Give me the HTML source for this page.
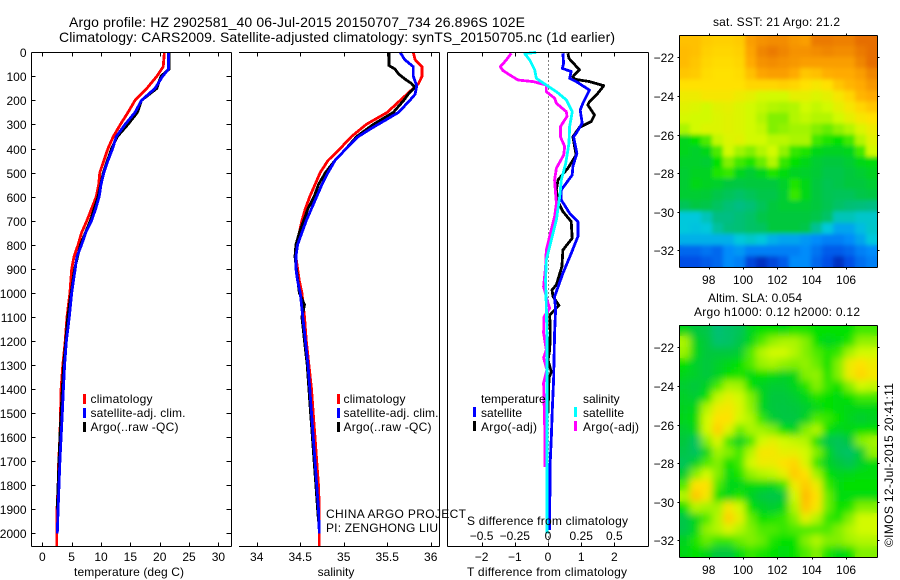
<!DOCTYPE html>
<html>
<head>
<meta charset="utf-8">
<title>Argo profile</title>
<style>
html,body{margin:0;padding:0;background:#fff;}
svg{display:block;}
text{font-family:"Liberation Sans",sans-serif;font-size:12px;fill:#000;}
.m{text-anchor:middle;}
.e{text-anchor:end;}
</style>
</head>
<body>
<svg id="chart" xmlns="http://www.w3.org/2000/svg" width="900" height="580" viewBox="0 0 900 580">
<defs>
<filter id="map-smooth-sst" x="0" y="0" width="100%" height="100%">
<feGaussianBlur stdDeviation="2" result="b"/>
<feMerge><feMergeNode in="SourceGraphic"/><feMergeNode in="b"/></feMerge>
</filter>
<filter id="map-smooth-sla" x="0" y="0" width="100%" height="100%">
<feGaussianBlur stdDeviation="3.6" result="b"/>
<feMerge><feMergeNode in="SourceGraphic"/><feMergeNode in="b"/></feMerge>
</filter>
</defs>
<rect x="0" y="0" width="900" height="580" fill="#fff"/>

<text x="69" y="27" style="font-size:14px" textLength="456">Argo profile: HZ 2902581_40 06-Jul-2015 20150707_734 26.896S 102E</text>
<text x="59" y="42" style="font-size:14px" textLength="556">Climatology: CARS2009. Satellite-adjusted climatology: synTS_20150705.nc (1d earlier)</text>

<g id="p1"></g>
<g id="p2"></g>
<g id="p3"></g>
<g id="m1"></g>
<g id="m2"></g>

<text x="74" y="576" textLength="110">temperature (deg C)</text>
<text x="336" y="576" class="m">salinity</text>
<text x="467" y="576" textLength="160">T difference from climatology</text>
<text x="467" y="525" textLength="161">S difference from climatology</text>

<g>
<rect x="83" y="394" width="3" height="10" fill="#f00"/>
<rect x="83" y="408" width="3" height="10" fill="#00f"/>
<rect x="83" y="422" width="3" height="10" fill="#000"/>
<text x="90.5" y="403" textLength="62">climatology</text>
<text x="90.5" y="417" textLength="95">satellite-adj. clim.</text>
<text x="90.5" y="431" textLength="88">Argo(..raw -QC)</text>
</g>
<g>
<rect x="337" y="394" width="3" height="10" fill="#f00"/>
<rect x="337" y="408" width="3" height="10" fill="#00f"/>
<rect x="337" y="422" width="3" height="10" fill="#000"/>
<text x="343.5" y="403" textLength="62">climatology</text>
<text x="343.5" y="417" textLength="95">satellite-adj. clim.</text>
<text x="343.5" y="431" textLength="88">Argo(..raw -QC)</text>
</g>
<g>
<text x="481" y="403">temperature</text>
<text x="583" y="403">salinity</text>
<rect x="473" y="407" width="3" height="10" fill="#00f"/>
<rect x="473" y="421" width="3" height="10" fill="#000"/>
<rect x="574" y="407" width="3" height="10" fill="#0ff"/>
<rect x="574" y="421" width="3" height="10" fill="#f0f"/>
<text x="481" y="417" textLength="41">satellite</text>
<text x="481" y="431" textLength="56">Argo(-adj)</text>
<text x="583" y="417" textLength="41">satellite</text>
<text x="583" y="431" textLength="56">Argo(-adj)</text>
</g>

<text x="326" y="518" textLength="140">CHINA ARGO PROJECT</text>
<text x="326" y="532" textLength="112">PI: ZENGHONG LIU</text>

<text x="713" y="26" textLength="127">sat. SST: 21 Argo: 21.2</text>
<text x="708" y="302" textLength="94">Altim. SLA: 0.054</text>
<text x="694" y="316" textLength="166">Argo h1000: 0.12 h2000: 0.12</text>
<text transform="translate(893,547) rotate(-90)" x="0" y="0" textLength="164">©IMOS 12-Jul-2015 20:41:11</text>
</svg>

<script>
// ---------- depth axis ----------
const depthTicks = [0,100,200,300,400,500,600,700,800,900,1000,1100,1200,1300,1400,1500,1600,1700,1800,1900,2000];

// ---------- temperature panel ----------
const tempTicks = [0,5,10,15,20,25,30];
const tempClimDepth = [0,60,100,150,200,250,300,350,400,450,500,550,600,650,700,750,800,850,900,1000,1100,1200,1300,1400,1500,1600,1700,1800,1900,2000,2052];
const tempClim = [20.8,20.6,19.5,17.8,15.8,14.6,13.3,12.1,11.2,10.5,9.8,9.6,9.2,8.4,7.6,6.7,6.1,5.4,5,4.7,4.2,3.9,3.5,3.2,3.1,3,2.8,2.7,2.5,2.45,2.45];
const tempSatDepth = [0,70,100,150,200,250,300,350,400,450,500,550,600,650,700,750,800,850,900,1000,1100,1200,1300,1400,1500,1600,1700,1800,1900,2000];
const tempSat = [21.5,21.5,20.5,19.2,16.9,15.8,14.1,12.6,12,11.2,10.5,10,9.7,9.1,8.4,7.4,6.7,5.9,5.6,5,4.6,4.1,3.8,3.6,3.4,3.2,3,2.85,2.7,2.55];
const tempArgoDepth = [0,70,100,150,200,250,300,350,400,500,600,700,800,900,1000,1100,1200,1300,1400,1500,1600,1700,1800,1900];
const tempArgo = [21.6,21.6,20.2,19.5,16.9,16.2,14.6,12.8,11.8,10.4,9.5,8.2,6.5,5.5,4.9,4.35,4,3.65,3.4,3.2,3,2.85,2.7,2.55];

// ---------- salinity panel ----------
const salTicks = [34,34.5,35,35.5,36];
const salClimDepth = [0,30,60,100,130,150,200,250,300,350,400,450,500,550,600,650,700,750,800,850,900,950,1000,1100,1200,1300,1400,1500,1600,1700,1800,1900,2052];
const salClim = [35.8,35.82,35.9,35.9,35.86,35.8,35.65,35.5,35.26,35.09,34.96,34.82,34.73,34.67,34.61,34.56,34.52,34.49,34.46,34.45,34.47,34.49,34.52,34.55,34.57,34.6,34.63,34.65,34.67,34.69,34.71,34.72,34.72];
const salSatDepth = [0,30,60,100,140,175,200,250,280,320,350,400,450,500,550,600,650,700,750,800,850,900,950,1000,1100,1200,1300,1400,1500,1600,1700,1800,1900,2000];
const salSat = [35.65,35.7,35.8,35.8,35.84,35.82,35.76,35.63,35.49,35.3,35.17,35.03,34.9,34.82,34.75,34.69,34.63,34.57,34.52,34.47,34.45,34.45,34.47,34.5,34.53,34.56,34.59,34.61,34.63,34.65,34.67,34.69,34.71,34.72];
const salArgoDepth = [0,55,70,90,110,130,145,175,200,250,300,350,400,450,500,550,600,650,700,750,800,850,1000,1050,1100,1200,1300,1400,1500,1600,1700,1800,1900,1950];
const salArgo = [35.52,35.52,35.59,35.63,35.7,35.78,35.82,35.74,35.69,35.57,35.34,35.15,35.03,34.9,34.79,34.71,34.66,34.59,34.54,34.49,34.45,34.44,34.49,34.55,34.52,34.55,34.58,34.6,34.62,34.64,34.66,34.68,34.7,34.71];

// ---------- difference panel ----------
const diffTTicks = [-2,-1,0,1,2];
const diffSTicks = [-0.5,-0.25,0,0.25,0.5];
const diffSTickLabels = ["\u22120.5","\u22120.25","0","0.25","0.5"];
const dTSatDepth = [4,46,67,80,108,122,157,212,240,295,337,351,420,475,510,572,614,669,704,766,836,919,1016,1070,1167,1362,1487,1604,1724,1986];
const dTSat = [0.45,0.47,0.43,0.7,0.65,0.85,1.25,1.05,0.97,1.03,0.85,0.77,0.87,0.75,0.73,0.4,0.4,0.65,0.9,0.9,0.7,0.45,0.2,0.23,0.2,0.17,0.13,0.1,0.06,0.05];
const dTArgoDepth = [4,25,73,101,112,122,139,177,205,219,261,288,312,351,392,427,482,531,572,621,662,704,773,822,891,967,988,1016,1053,1071,1092,1167,1238,1279,1329,1354,1500];
const dTArgo = [0.6,0.63,0.95,0.75,0.8,1.25,1.68,1.46,1.25,1.2,1.4,1.3,0.95,0.75,0.8,0.85,0.6,0.3,0.25,0.3,0.45,0.7,0.73,0.45,0.42,0.25,0.12,0.15,0.33,0.2,0.05,0.07,0.05,0,0.1,0.03,0];
const dSSatDepth = [0,6,32,73,108,136,164,198,247,309,378,462,531,600,697,780,863,947,1058,1167,1500,2000];
const dSSat = [-0.088,-0.175,-0.138,-0.1,-0.088,-0.013,0.063,0.138,0.183,0.163,0.158,0.133,0.1,0.088,0.063,0.025,-0.013,-0.018,-0.013,-0.008,-0.008,-0.008];
const dSArgoDepth = [4,32,60,76,98,115,122,136,164,191,212,247,267,309,351,392,427,482,531,572,628,683,753,822,891,974,1044,1064,1100,1167,1238,1270,1320,1375,1557,1724];
const dSArgo = [-0.276,-0.314,-0.359,-0.339,-0.276,-0.226,-0.113,-0.013,-0.013,0.05,0.063,0.138,0.143,0.093,0.093,0.126,0.118,0.063,0.05,0.055,0.063,0.05,0.018,-0.013,-0.018,-0.033,0,0.013,-0.03,-0.033,-0.013,-0.033,-0.008,-0.033,-0.025,-0.023];

// ---------- maps ----------
const lonTicks = [98,100,102,104,106];
const latTicks = [-22,-24,-26,-28,-30,-32];
const latTickLabels = ["\u221222","\u221224","\u221226","\u221228","\u221230","\u221232"];
const sstGrid = [
[9.6,9.6,9.4,9.3,9.3,9.4,10.2,10.4,10.5,10.5,10.3,10.2,10.8,10.8,10.7,10.7,11,11],
[9.7,9.6,9.3,9.2,9.2,9.3,10.1,10.6,10.8,10.6,10.4,10.4,10.5,10.6,10.5,10.5,10.8,11],
[9.7,9.5,9.2,9.1,9.1,9.2,10,10.4,10.5,10.4,10.3,10.2,10.2,10.2,10.2,10.2,10.6,11],
[9.5,9.4,9.1,9,9,9.1,9.6,10.1,10.2,10.2,10,9.5,9.6,9.9,10,10,10.2,10.6],
[9,9,9,9,9,9,9.2,9.2,9.2,9.3,9.2,9,8.8,9,9.5,9.8,10,10.3],
[8.6,8.6,8.8,8.8,8.8,8.6,8.4,8.1,8,8,8.4,8.4,8.2,8.4,8.8,9.2,9.8,10],
[8.3,8.2,8,8.3,8.4,8.2,8,7.8,7.6,7.5,7.6,8,7.8,8,8.4,8.8,9.2,9.5],
[8.1,8,8,8.2,8.3,8.2,8,7.6,7,7,7.6,7.8,7.6,7.6,8,8.4,8.8,9],
[7.5,8,8.2,8.2,8.3,8.2,8,7.8,7,7.2,7.4,7.4,7,6.8,7.2,7.6,8.2,8.6],
[5.5,6,6.6,7.8,8.2,8.3,8,8,7.7,7.7,7.5,7.5,6.5,6.2,6,6.5,7.6,8.3],
[5.5,5.3,5.6,6.6,8,7.4,7,7.6,8,7.2,6.4,6.2,5.6,5.4,5.4,5.5,6.5,8],
[5.3,5.3,5.2,6,7,6.5,6.2,6.8,7.6,6.4,6,5.6,5.2,5,5,5.2,5.6,5.8],
[5.2,5.4,5.4,6.2,6.4,5.5,5.2,5.5,6.2,5.8,5.4,5.3,5.1,4.8,4.8,5,5.2,5.4],
[5.2,5.6,5.4,5.3,5,4.9,5,5,5,5.3,6.2,5.6,5,4.7,4.8,5,5,5.2],
[5.2,5.2,5.1,4.8,4.6,4.4,4.6,4.8,4.8,5.2,6.4,5.6,5,4.7,4.6,4.6,4.8,4.9],
[4.6,4.9,4.8,4.5,4.2,4,4.2,4.6,5,5.2,5.2,5.2,5,4.7,4.4,4.2,4.1,4],
[3,3,3.4,4,4,4.2,4.4,4.8,5,5,5,5,4.8,4.4,3.4,3.4,3.2,3.2],
[3,2.9,3,3.7,4.1,4.2,4.4,4.5,5,5,5,4.8,3.8,3,2.4,2.4,2.8,3.2],
[2.6,2.6,2.6,2.6,2.6,3,3.2,3,2.6,2.4,2.4,2.2,2,1.8,1.8,2,2.4,3],
[1.4,1.4,1.6,1.4,2,2.2,1.8,1.8,1.8,1.8,1.8,2,1.6,1.2,1.2,1.4,1.8,2],
[1,1,1.2,1.4,2,1.8,0.8,0.4,0.8,1.2,2,2,1.4,1,0.4,1,1.5,1.8]
];
const slaGrid = [
[5.5,5,4.8,4.2,4.4,4.6,5.5,6,6,5.8,6.2,6.2,6,6,6,6,6.5,6.5],
[7.5,5.4,5,4.3,4.4,4.8,5.6,6.6,7.2,7.5,7.5,7,6,5.5,5.8,6.2,7.2,7.2],
[7.3,5.6,5,5,5,5.2,6.6,7.6,8,8,7.6,7,6.6,6.2,6.4,7.4,8,8],
[6,5.3,5,5.3,5.6,6,6.6,7.3,7.5,7.2,7,7.2,6.8,6,7,8.6,9,8.6],
[5.5,5.3,5,5.4,6,6.2,5.8,6,5.8,5.4,5.6,7,7.2,6.2,7,8.6,9.2,8.8],
[5.2,5,5.4,6.5,7.5,7.4,6,5.4,5.2,5.2,5.5,6.2,7,6.4,6,7,8,7.8],
[5.3,5.2,6,7.8,8.4,8,7,5.6,5,5,5.2,5.6,6.2,6,5.8,6,6.5,6.5],
[5.4,5.6,7.6,8.6,8.8,8.2,7.2,5.5,5,4.9,5,5.2,5.6,6,5.8,5.6,5.6,5.6],
[5.5,5.8,8,9,9,8,7.6,6.4,5.2,4.9,4.9,5.4,6.6,6.4,6,5.5,5.2,5.4],
[5.2,5.6,8,9.3,8.2,6.8,7.5,7.4,7,6,5.5,7,7.6,6,5.5,5.6,6,6],
[5,4.5,7,8.2,6.5,5.4,6.5,8,8.4,8,7.8,7.6,6,4.8,4.6,5,7,7.4],
[4.8,4.5,5.6,7.4,7,6.5,7.6,8.8,8.8,8.4,8.4,8,7,5.6,4.6,4.4,5.2,7.2],
[4.6,5.4,6.6,7,6,6.5,8,8.6,8.6,9,9.2,8.2,6.4,5.4,5,4.7,5.3,5.8],
[5.2,7,8,7,5.8,6.2,7.2,7.6,7.8,8.4,9.4,9,7.4,6,5.5,5.6,5.8,5.8],
[6.6,9,9,6.6,5.6,5.6,5.8,5.8,5.6,6.4,8.6,9.4,8.6,6.4,5.8,6,6,6],
[7.6,9.5,8.8,6,5.6,6.2,5.4,5,4.8,5,8,9.7,9,6.8,5.8,5.8,5.8,5.8],
[6,7.6,7.4,7.4,8.8,8,6,5.4,5.2,5.6,7.6,9.5,8.8,6.8,6,6.2,7,7],
[4.8,5.6,6.6,7.6,9.3,8.4,6.8,6,6.2,6.4,7,8.4,7.6,6.4,6.2,7,8,8],
[4.8,5.6,7.2,7.6,8.2,7.6,7,6.6,6.6,6.4,6.6,6.6,6.6,6.6,7,7.6,8,8],
[5.4,6.2,6.8,6.4,6.4,6.8,7,6.8,6.2,6,6,7,7.6,7,7,7.4,7.6,7.6],
[5.6,6,5.6,5,5,5.8,6.4,6.2,6,5.8,6,6.6,7,6.2,5.6,6,7,7]
];
const colourLevels = [0,1,2,3,4,5,6,7,8,9,10,11];
const colourStops = [[0,30,170],[0,80,230],[0,140,250],[0,200,220],[0,190,130],[0,200,60],[0,225,0],[130,240,0],[210,250,0],[255,225,0],[255,170,0],[230,110,0]];

// ---------- axis functions ----------
const SVGNS = "http://www.w3.org/2000/svg";
const yDepth = d => 52.3 + d * 0.2405;
const xTemp = v => 42.3 + v * 5.87;
const xSal = v => 256.7 + (v - 34) * 87;
const xDT = v => 548 + v * 33.2;
const xDS = v => 548 + v * 132.8;
const xLon = lon => 708.7 + (lon - 98) * 17.17;
const ySst = lat => 57.3 + (-22 - lat) * 19.3;
const ySla = lat => 347.3 + (-22 - lat) * 19.3;
const LON_W = 96.27, LON_E = 107.8;
const LAT_N = -20.85, LAT_S = -32.86;

function mk(tag, attrs, parent) {
  const el = document.createElementNS(SVGNS, tag);
  for (const k in attrs) el.setAttribute(k, attrs[k]);
  parent.appendChild(el);
  return el;
}
function line(parent, x1, y1, x2, y2) {
  const el = mk('line', {x1: x1, y1: y1, x2: x2, y2: y2, stroke: '#000', 'stroke-width': 1, 'shape-rendering': 'crispEdges'}, parent);
  
  
  return el;
}
function tickLabel(parent, x, y, str, cls) {
  const el = mk('text', {x: x, y: y, class: cls}, parent);
  el.textContent = str;
  
  
  return el;
}
function profile(parent, depths, vals, xf, colour, name) {
  const pts = depths.map((d, i) => xf(vals[i]).toFixed(1) + ',' + yDepth(d).toFixed(1)).join(' ');
  const el = mk('polyline', {points: pts, fill: 'none', stroke: colour, 'stroke-width': 2.8, 'stroke-linejoin': 'round', 'shape-rendering': 'crispEdges'}, parent);
  
  
  return el;
}
const snap = v => Math.round(v) + 0.5;

// ---------- panel frames ----------
const L1 = 31.5, R1 = 231.5, L2 = 239, R2 = 439.5, L3 = 447.5, R3 = 648.5, TOP = 52.5, BOT = 546.5;
const p1 = document.getElementById('p1');
const p2 = document.getElementById('p2');
const p3 = document.getElementById('p3');

profile(p1, tempClimDepth, tempClim, xTemp, '#f00', 'temperature-climatology-line');
profile(p1, tempArgoDepth, tempArgo, xTemp, '#000', 'temperature-argo-line');
profile(p1, tempSatDepth, tempSat, xTemp, '#00f', 'temperature-satellite-line');

line(p1, L1, TOP, R1, TOP); line(p1, L1, BOT, R1, BOT); line(p1, L1, TOP, L1, BOT); line(p1, R1, TOP, R1, BOT);
depthTicks.forEach(d => {
  const y = snap(yDepth(d));
  line(p1, L1, y, L1 + 4, y);
  line(p1, R1 - 5, y, R1, y);
  tickLabel(p1, 26.5, y + 4.5, String(d), 'e');
});
tempTicks.forEach(t => {
  const x = snap(xTemp(t));
  line(p1, x, TOP, x, TOP + 4);
  line(p1, x, BOT - 4, x, BOT);
  tickLabel(p1, xTemp(t), 561, String(t), 'm');
});

profile(p2, salClimDepth, salClim, xSal, '#f00', 'salinity-climatology-line');
profile(p2, salArgoDepth, salArgo, xSal, '#000', 'salinity-argo-line');
profile(p2, salSatDepth, salSat, xSal, '#00f', 'salinity-satellite-line');

line(p2, L2, TOP, R2, TOP); line(p2, L2, BOT, R2, BOT); line(p2, R2, TOP, R2, BOT);
salTicks.forEach(s => {
  const x = snap(xSal(s));
  line(p2, x, TOP, x, TOP + 4);
  line(p2, x, BOT - 4, x, BOT);
  tickLabel(p2, xSal(s), 561, String(s), 'm');
});

const zeroLine = mk('line', {x1: 548.5, y1: TOP, x2: 548.5, y2: BOT, stroke: '#000', 'stroke-width': 1, 'stroke-dasharray': '1 3', 'shape-rendering': 'crispEdges'}, p3);


profile(p3, dTArgoDepth, dTArgo, xDT, '#000', 't-difference-argo-line');
profile(p3, dTSatDepth, dTSat, xDT, '#00f', 't-difference-satellite-line');
profile(p3, dSArgoDepth, dSArgo, xDS, '#f0f', 's-difference-argo-line');
profile(p3, dSSatDepth, dSSat, xDS, '#0ff', 's-difference-satellite-line');

line(p3, L3, TOP, R3, TOP); line(p3, L3, BOT, R3, BOT); line(p3, L3, TOP, L3, BOT); line(p3, R3, TOP, R3, BOT);
diffTTicks.forEach(t => {
  const x = snap(xDT(t));
  line(p3, x, TOP, x, TOP + 4);
  line(p3, x, BOT - 4, x, BOT);
  tickLabel(p3, xDT(t), 561, String(t).replace('-', '\u2212'), 'm');
});
diffSTicks.forEach((s, i) => {
  tickLabel(p3, xDS(s), 540, diffSTickLabels[i], 'm');
});

// ---------- maps ----------
function levelColour(v) {
  const n = colourLevels.length;
  if (v <= colourLevels[0]) return 'rgb(' + colourStops[0].join(',') + ')';
  if (v >= colourLevels[n - 1]) return 'rgb(' + colourStops[n - 1].join(',') + ')';
  let i = 0;
  while (colourLevels[i + 1] < v) i++;
  const f = (v - colourLevels[i]) / (colourLevels[i + 1] - colourLevels[i]);
  const c = colourStops[i].map((a, k) => Math.round(a + (colourStops[i + 1][k] - a) * f));
  return 'rgb(' + c.join(',') + ')';
}
function drawMap(parent, grid, yf, filterId, lonLabelY, cellName) {
  const rows = grid.length, cols = grid[0].length;
  const dLon = (LON_E - LON_W) / cols, dLat = (LAT_N - LAT_S) / rows;
  const cells = mk('g', {filter: 'url(#' + filterId + ')'}, parent);
  
  
  grid.forEach((row, r) => {
    row.forEach((v, c) => {
      const x0 = xLon(LON_W + c * dLon), x1 = xLon(LON_W + (c + 1) * dLon);
      const y0 = yf(LAT_N - r * dLat), y1 = yf(LAT_N - (r + 1) * dLat);
      const cell = mk('rect', {x: x0.toFixed(2), y: y0.toFixed(2), width: (x1 - x0 + 0.5).toFixed(2), height: (y1 - y0 + 0.5).toFixed(2), fill: levelColour(v), 'shape-rendering': 'crispEdges'}, cells);
      
      
    });
  });
  const l = snap(xLon(LON_W)), rr = snap(xLon(LON_E)), t = snap(yf(LAT_N)), b = snap(yf(LAT_S));
  line(parent, l, t, rr, t); line(parent, l, b, rr, b); line(parent, l, t, l, b); line(parent, rr, t, rr, b);
  lonTicks.forEach(lon => {
    const x = snap(xLon(lon));
    line(parent, x, t - 2, x, t);
    line(parent, x, b, x, b + 2);
    tickLabel(parent, xLon(lon), lonLabelY, String(lon), 'm');
  });
  latTicks.forEach((lat, i) => {
    const y = snap(yf(lat));
    line(parent, l - 2, y, l, y);
    line(parent, rr, y, rr + 2, y);
    tickLabel(parent, 674, y + 4.5, latTickLabels[i], 'e');
  });
}
drawMap(document.getElementById('m1'), sstGrid, ySst, 'map-smooth-sst', 284, 'sst-cell');
drawMap(document.getElementById('m2'), slaGrid, ySla, 'map-smooth-sla', 574, 'sla-cell');
</script>
</body>
</html>
